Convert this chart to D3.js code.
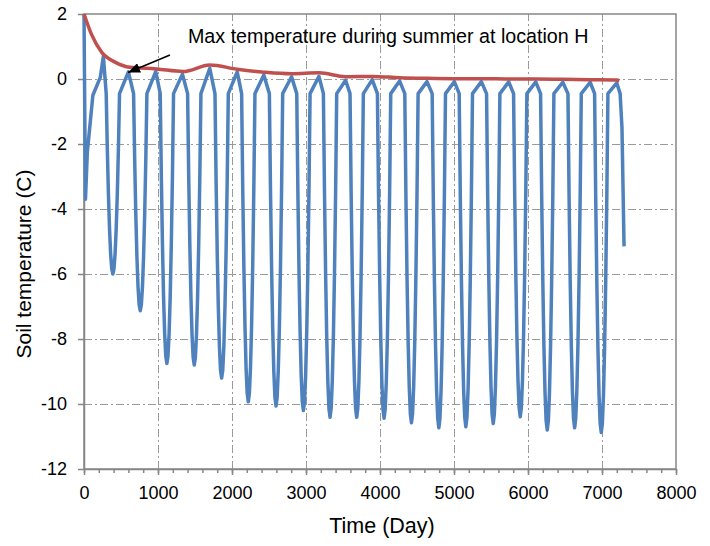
<!DOCTYPE html>
<html>
<head>
<meta charset="utf-8">
<script src="https://cdn.jsdelivr.net/npm/d3@7"></script>
<style>
body { margin: 0; background: #fff; }
text { font-family: "Liberation Sans", Arial, sans-serif; fill: #000; }
.grid line { stroke: #9a9a9a; stroke-width: 1; stroke-dasharray: 8,3,2,3; }
.grid .domain { display: none; }
.axis path, .axis line { stroke: #868686; stroke-width: 1.5; }
</style>
</head>
<body>
<svg id="chart" width="710" height="546"></svg>
<script>
// tick labels
var xTicks = [0, 1000, 2000, 3000, 4000, 5000, 6000, 7000, 8000];
var yTicks = [-12, -10, -8, -6, -4, -2, 0, 2];

// blue: soil temperature at location H, [day, C]
var soilTemp = [
	[0, 2.0], [20, -3.7], [45, -2.25], [120, -0.5], [220, 0.05], [262, 0.7],
	[300, -0.45], [315, -2.15], [330, -3.54], [345, -4.61], [360, -5.38], [375, -5.84], [390, -6.0], [405, -5.84], [420, -5.38], [435, -4.61], [450, -3.54], [465, -2.15], [480, -0.45], [600, 0.22],
	[670, -0.45], [685, -2.49], [700, -4.16], [715, -5.46], [730, -6.39], [745, -6.94], [760, -7.13], [775, -6.94], [790, -6.39], [805, -5.46], [820, -4.16], [835, -2.49], [850, -0.45], [970, 0.23],
	[1030, -0.45], [1045, -2.99], [1060, -5.06], [1075, -6.68], [1090, -7.83], [1105, -8.52], [1120, -8.75], [1135, -8.52], [1150, -7.83], [1165, -6.68], [1180, -5.06], [1195, -2.99], [1210, -0.45], [1330, 0.15],
	[1400, -0.45], [1415, -3.01], [1430, -5.09], [1445, -6.71], [1460, -7.87], [1475, -8.57], [1490, -8.8], [1505, -8.57], [1520, -7.87], [1535, -6.71], [1550, -5.09], [1565, -3.01], [1580, -0.45], [1700, 0.33],
	[1770, -0.45], [1785, -3.13], [1800, -5.32], [1815, -7.01], [1830, -8.23], [1845, -8.96], [1860, -9.2], [1875, -8.96], [1890, -8.23], [1905, -7.01], [1920, -5.32], [1935, -3.13], [1950, -0.45], [2070, 0.22],
	[2130, -0.45], [2145, -3.35], [2160, -5.72], [2175, -7.56], [2190, -8.88], [2205, -9.66], [2220, -9.93], [2235, -9.66], [2250, -8.88], [2265, -7.56], [2280, -5.72], [2295, -3.35], [2310, -0.45], [2430, 0.12],
	[2505, -0.45], [2520, -3.39], [2535, -5.79], [2550, -7.66], [2565, -8.99], [2580, -9.79], [2595, -10.06], [2610, -9.79], [2625, -8.99], [2640, -7.66], [2655, -5.79], [2670, -3.39], [2685, -0.45], [2805, 0.07],
	[2875, -0.45], [2890, -3.43], [2905, -5.87], [2920, -7.76], [2935, -9.12], [2950, -9.93], [2965, -10.2], [2980, -9.93], [2995, -9.12], [3010, -7.76], [3025, -5.87], [3040, -3.43], [3055, -0.45], [3175, 0.08],
	[3235, -0.45], [3250, -3.5], [3265, -5.99], [3280, -7.92], [3295, -9.3], [3310, -10.13], [3325, -10.41], [3340, -10.13], [3355, -9.3], [3370, -7.92], [3385, -5.99], [3400, -3.5], [3415, -0.45], [3535, -0.04],
	[3595, -0.45], [3610, -3.5], [3625, -5.99], [3640, -7.92], [3655, -9.3], [3670, -10.13], [3685, -10.41], [3700, -10.13], [3715, -9.3], [3730, -7.92], [3745, -5.99], [3760, -3.5], [3775, -0.45], [3895, -0.02],
	[3965, -0.45], [3980, -3.51], [3995, -6.0], [4010, -7.94], [4025, -9.33], [4040, -10.16], [4055, -10.44], [4070, -10.16], [4085, -9.33], [4100, -7.94], [4115, -6.0], [4130, -3.51], [4145, -0.45], [4265, -0.06],
	[4335, -0.45], [4350, -3.55], [4365, -6.08], [4380, -8.05], [4395, -9.46], [4410, -10.3], [4425, -10.58], [4440, -10.3], [4455, -9.46], [4470, -8.05], [4485, -6.08], [4500, -3.55], [4515, -0.45], [4635, -0.08],
	[4705, -0.45], [4720, -3.6], [4735, -6.17], [4750, -8.16], [4765, -9.59], [4780, -10.44], [4795, -10.73], [4810, -10.44], [4825, -9.59], [4840, -8.16], [4855, -6.17], [4870, -3.6], [4885, -0.45], [5005, -0.08],
	[5070, -0.45], [5085, -3.59], [5100, -6.15], [5115, -8.14], [5130, -9.56], [5145, -10.41], [5160, -10.7], [5175, -10.41], [5190, -9.56], [5205, -8.14], [5220, -6.15], [5235, -3.59], [5250, -0.45], [5370, -0.08],
	[5440, -0.45], [5455, -3.56], [5470, -6.09], [5485, -8.06], [5500, -9.47], [5515, -10.32], [5530, -10.6], [5545, -10.32], [5560, -9.47], [5575, -8.06], [5590, -6.09], [5605, -3.56], [5620, -0.45], [5740, -0.09],
	[5805, -0.45], [5820, -3.49], [5835, -5.98], [5850, -7.91], [5865, -9.29], [5880, -10.11], [5895, -10.39], [5910, -10.11], [5925, -9.29], [5940, -7.91], [5955, -5.98], [5970, -3.49], [5985, -0.45], [6105, -0.09],
	[6170, -0.45], [6185, -3.62], [6200, -6.2], [6215, -8.21], [6230, -9.65], [6245, -10.51], [6260, -10.8], [6275, -10.51], [6290, -9.65], [6305, -8.21], [6320, -6.2], [6335, -3.62], [6350, -0.45], [6470, -0.1],
	[6540, -0.45], [6555, -3.6], [6570, -6.17], [6585, -8.16], [6600, -9.59], [6615, -10.44], [6630, -10.73], [6645, -10.44], [6660, -9.59], [6675, -8.16], [6690, -6.17], [6705, -3.6], [6720, -0.45], [6840, -0.1],
	[6900, -0.45], [6915, -3.64], [6930, -6.25], [6945, -8.27], [6960, -9.72], [6975, -10.59], [6990, -10.88], [7005, -10.59], [7020, -9.72], [7035, -8.27], [7050, -6.25], [7065, -3.64], [7080, -0.45], [7200, -0.12],
	[7245, -0.45], [7270, -1.5], [7298, -5.15]
];

// red: summer maximum, [day, C]
var maxTemp = [
	[0, 2.0], [100, 1.38], [240, 0.82], [420, 0.52], [620, 0.36], [980, 0.31], [1340, 0.23],
	[1700, 0.43], [2070, 0.3], [2430, 0.21], [2805, 0.16], [3175, 0.19], [3535, 0.07], [3895, 0.08],
	[4265, 0.04], [4635, 0.02], [5005, 0.01], [5370, 0.01], [5740, 0.0], [6105, 0.0], [6470, -0.01],
	[6840, -0.02], [7200, -0.03], [7235, -0.05]
];

var noteText = 'Max temperature during summer at location H';
var noteAt = [1405, 1.11];
var arrowFrom = [1162, 0.74];
var arrowTo = [595, 0.2];

var svg = d3.select('#chart');
svg.append('rect').attr('width', 710).attr('height', 546).attr('fill', '#fff');

var x = d3.scaleLinear().domain([0, 8000]).range([84, 676]);
var y = d3.scaleLinear().domain([-12, 2]).range([469, 14]);
var plain = function(d){ return String(d) };

// grid
svg.append('g')
	.attr('class', 'grid')
	.attr('transform', 'translate(0,469)')
	.call(d3.axisBottom(x).tickValues(xTicks.slice(1, -1)).tickSize(-455).tickFormat(''));
svg.append('g')
	.attr('class', 'grid')
	.attr('transform', 'translate(84,0)')
	.call(d3.axisLeft(y).tickValues(yTicks.slice(1, -1)).tickSize(-592).tickFormat(''));

// frame
svg.append('rect')
	.attr('x', x(0)).attr('y', y(2))
	.attr('width', x(8000) - x(0)).attr('height', y(-12) - y(2))
	.attr('fill', 'none').attr('stroke', '#868686').attr('stroke-width', 1.5);

// minor ticks
svg.append('g')
	.attr('class', 'axis')
	.attr('transform', 'translate(0,469)')
	.call(d3.axisBottom(x).tickValues(d3.range(0, 8001, 200)).tickSize(4).tickFormat(''))
	.select('.domain').remove();

var xAxis = svg.append('g')
	.attr('class', 'axis')
	.attr('transform', 'translate(0,469)')
	.call(d3.axisBottom(x).tickValues(xTicks).tickFormat(plain).tickSizeInner(6).tickSizeOuter(0).tickPadding(11));
xAxis.selectAll('text').style('font-size', '18px');

var yAxis = svg.append('g')
	.attr('class', 'axis')
	.attr('transform', 'translate(84,0)')
	.call(d3.axisLeft(y).tickValues(yTicks).tickFormat(plain).tickSizeInner(6).tickSizeOuter(0).tickPadding(11));
yAxis.selectAll('text').style('font-size', '18px');

var line = d3.line()
	.x(function(d){ return x(d[0]) })
	.y(function(d){ return y(d[1]) });

svg.append('path')
	.datum(soilTemp)
	.attr('d', line)
	.attr('fill', 'none')
	.attr('stroke', '#4f81bd')
	.attr('stroke-width', 3.5)
	.attr('stroke-linejoin', 'round');

svg.append('path')
	.datum(maxTemp)
	.attr('d', line.curve(d3.curveMonotoneX))
	.attr('fill', 'none')
	.attr('stroke', '#c0504d')
	.attr('stroke-width', 3.5);

// annotation
svg.append('defs').append('marker')
	.attr('id', 'head')
	.attr('markerUnits', 'userSpaceOnUse')
	.attr('markerWidth', 13).attr('markerHeight', 10)
	.attr('refX', 12).attr('refY', 5)
	.attr('orient', 'auto')
	.append('path')
	.attr('d', 'M0,0L12,5L0,10Z')
	.attr('fill', '#000');

svg.append('line')
	.attr('x1', x(arrowFrom[0])).attr('y1', y(arrowFrom[1]))
	.attr('x2', x(arrowTo[0])).attr('y2', y(arrowTo[1]))
	.attr('stroke', '#000').attr('stroke-width', 1.5)
	.attr('marker-end', 'url(#head)');

svg.append('text')
	.attr('x', x(noteAt[0])).attr('y', y(noteAt[1]))
	.style('font-size', '19.7px')
	.text(noteText);

// axis titles
svg.append('text')
	.attr('x', 382).attr('y', 533)
	.attr('text-anchor', 'middle')
	.style('font-size', '21.5px')
	.text('Time (Day)');

svg.append('text')
	.attr('transform', 'translate(31,264) rotate(-90)')
	.attr('text-anchor', 'middle')
	.style('font-size', '21px')
	.text('Soil temperature (C)');
</script>
</body>
</html>
